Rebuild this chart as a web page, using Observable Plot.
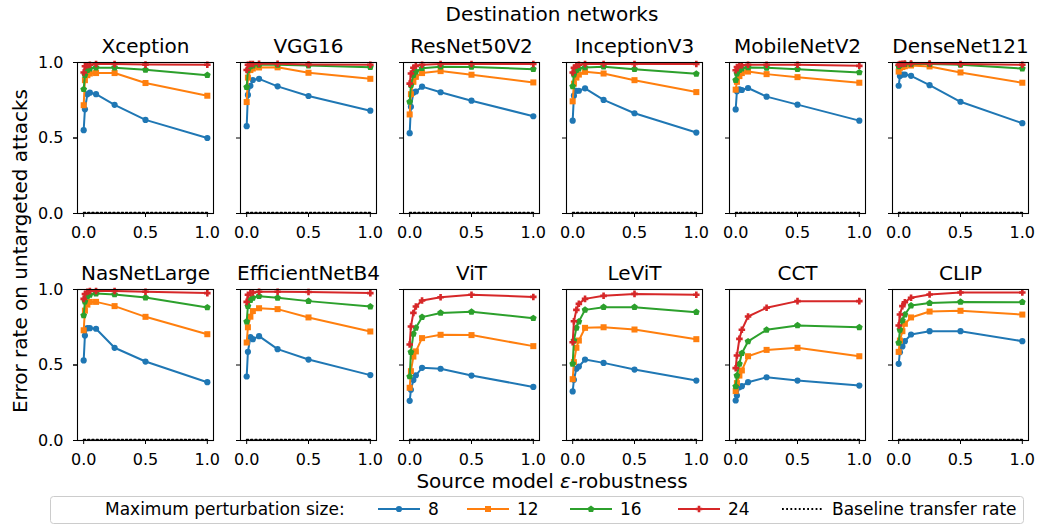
<!DOCTYPE html>
<html><head><meta charset="utf-8">
<script src="https://cdn.jsdelivr.net/npm/d3@7"></script>
<script src="https://cdn.jsdelivr.net/npm/@observablehq/plot@0.6"></script>
<style>
body{margin:0;background:#fff;font-family:"DejaVu Sans",sans-serif;}
#chart{width:1038px;}
#chart svg{display:block;overflow:visible;}
</style></head><body><div id="chart"></div>
<script>
const eps = [0, 0.01, 0.03, 0.05, 0.1, 0.25, 0.5, 1.0];
const networks = ["Xception","VGG16","ResNet50V2","InceptionV3","MobileNetV2","DenseNet121",
  "NasNetLarge","EfficientNetB4","ViT","LeViT","CCT","CLIP"];
const sizes = [8, 12, 16, 24];
const colors = ["#1f77b4", "#ff7f0e", "#2ca02c", "#d62728"];

const err8 = [
  [0.552, 0.690, 0.790, 0.800, 0.790, 0.720, 0.620, 0.500],
  [0.578, 0.785, 0.846, 0.884, 0.892, 0.842, 0.778, 0.681],
  [0.532, 0.707, 0.800, 0.808, 0.840, 0.803, 0.747, 0.644],
  [0.615, 0.780, 0.813, 0.813, 0.829, 0.752, 0.664, 0.536],
  [0.689, 0.810, 0.823, 0.818, 0.831, 0.774, 0.721, 0.615],
  [0.846, 0.910, 0.920, 0.920, 0.912, 0.850, 0.740, 0.598],
  [0.530, 0.695, 0.744, 0.744, 0.740, 0.614, 0.523, 0.386],
  [0.424, 0.587, 0.684, 0.671, 0.691, 0.605, 0.536, 0.433],
  [0.263, 0.336, 0.400, 0.432, 0.481, 0.475, 0.430, 0.355],
  [0.325, 0.402, 0.475, 0.490, 0.536, 0.514, 0.470, 0.397],
  [0.265, 0.298, 0.353, 0.360, 0.386, 0.419, 0.397, 0.364],
  [0.508, 0.585, 0.623, 0.658, 0.702, 0.724, 0.724, 0.658]
];
const err12 = [
  [0.717, 0.883, 0.916, 0.927, 0.930, 0.930, 0.864, 0.780],
  [0.738, 0.900, 0.950, 0.960, 0.967, 0.968, 0.932, 0.892],
  [0.656, 0.790, 0.872, 0.905, 0.930, 0.943, 0.919, 0.868],
  [0.743, 0.860, 0.900, 0.920, 0.938, 0.927, 0.883, 0.804],
  [0.820, 0.872, 0.910, 0.930, 0.940, 0.923, 0.903, 0.866],
  [0.940, 0.965, 0.970, 0.975, 0.980, 0.974, 0.934, 0.866],
  [0.730, 0.860, 0.900, 0.918, 0.918, 0.890, 0.819, 0.704],
  [0.649, 0.750, 0.820, 0.857, 0.876, 0.870, 0.815, 0.722],
  [0.349, 0.459, 0.556, 0.590, 0.678, 0.700, 0.698, 0.625],
  [0.406, 0.519, 0.614, 0.662, 0.746, 0.750, 0.735, 0.671],
  [0.327, 0.380, 0.430, 0.464, 0.558, 0.600, 0.614, 0.558],
  [0.587, 0.662, 0.724, 0.773, 0.815, 0.854, 0.859, 0.834]
];
const err16 = [
  [0.823, 0.916, 0.949, 0.960, 0.966, 0.966, 0.952, 0.916],
  [0.837, 0.950, 0.975, 0.980, 0.985, 0.985, 0.980, 0.969],
  [0.740, 0.850, 0.916, 0.940, 0.962, 0.972, 0.971, 0.956],
  [0.842, 0.920, 0.950, 0.960, 0.967, 0.972, 0.956, 0.925],
  [0.883, 0.927, 0.950, 0.960, 0.967, 0.965, 0.956, 0.934],
  [0.975, 0.985, 0.988, 0.990, 0.990, 0.990, 0.985, 0.960],
  [0.828, 0.920, 0.955, 0.965, 0.973, 0.967, 0.947, 0.881],
  [0.788, 0.890, 0.930, 0.945, 0.956, 0.945, 0.923, 0.887],
  [0.424, 0.585, 0.706, 0.746, 0.817, 0.845, 0.852, 0.810],
  [0.508, 0.662, 0.746, 0.788, 0.865, 0.883, 0.883, 0.850],
  [0.358, 0.430, 0.508, 0.578, 0.656, 0.733, 0.762, 0.750],
  [0.647, 0.733, 0.795, 0.834, 0.894, 0.910, 0.918, 0.916]
];
const err24 = [
  [0.934, 0.975, 0.982, 0.985, 0.990, 0.990, 0.986, 0.985],
  [0.950, 0.985, 0.990, 0.990, 0.992, 0.992, 0.987, 0.985],
  [0.860, 0.927, 0.965, 0.978, 0.985, 0.990, 0.990, 0.990],
  [0.934, 0.965, 0.980, 0.985, 0.990, 0.990, 0.990, 0.990],
  [0.949, 0.970, 0.980, 0.982, 0.985, 0.985, 0.985, 0.978],
  [0.985, 0.990, 0.992, 0.993, 0.993, 0.993, 0.990, 0.985],
  [0.938, 0.970, 0.985, 0.990, 0.990, 0.990, 0.985, 0.976],
  [0.918, 0.965, 0.975, 0.980, 0.985, 0.985, 0.983, 0.976],
  [0.636, 0.755, 0.845, 0.887, 0.927, 0.949, 0.965, 0.951],
  [0.651, 0.790, 0.865, 0.905, 0.938, 0.958, 0.971, 0.965],
  [0.479, 0.563, 0.673, 0.733, 0.821, 0.879, 0.923, 0.923],
  [0.762, 0.834, 0.890, 0.916, 0.945, 0.967, 0.980, 0.980]
];
const baseline = [0.005, 0.005, 0.005, 0.005, 0.005, 0.005, 0.005, 0.005, 0.005, 0.005, 0.005, 0.005];
const yTicks = [0, 0.5, 1.0];
const xTicks = [0, 0.5, 1.0];

const seriesValues = [err8, err12, err16, err24];
const rows = [];
networks.forEach((net, i) => sizes.forEach((s, k) => eps.forEach((e, j) =>
  rows.push({net, col: i % 6, row: Math.floor(i / 6), size: s, eps: e, err: seriesValues[k][i][j]}))));
const baseRows = [];
networks.forEach((net, i) => eps.forEach(e =>
  baseRows.push({net, col: i % 6, row: Math.floor(i / 6), eps: e, err: baseline[i]})));
const titles = networks.map((net, i) => ({net, col: i % 6, row: Math.floor(i / 6)}));

const pentagon = {draw(ctx, size) {
  const R = Math.sqrt(size / (2.5 * Math.sin(2 * Math.PI / 5)));
  for (let k = 0; k < 5; k++) {
    const a = -Math.PI / 2 + k * 2 * Math.PI / 5;
    const x = R * Math.cos(a), y = R * Math.sin(a);
    if (k) ctx.lineTo(x, y); else ctx.moveTo(x, y);
  }
  ctx.closePath();
}};
// filled plus ("P"-style) with thicker arms
const plusFilled = {draw(ctx, size) {
  const s = Math.sqrt(size / 3.4); // arm half-length ~ s, thickness ~ 0.8 s
  const L = s, w = s * 0.4;
  ctx.moveTo(-L, -w); ctx.lineTo(-w, -w); ctx.lineTo(-w, -L); ctx.lineTo(w, -L);
  ctx.lineTo(w, -w); ctx.lineTo(L, -w); ctx.lineTo(L, w); ctx.lineTo(w, w);
  ctx.lineTo(w, L); ctx.lineTo(-w, L); ctx.lineTo(-w, w); ctx.lineTo(-L, w);
  ctx.closePath();
}};
const symbols = [d3.symbolCircle, d3.symbolSquare, pentagon, plusFilled];
const radii = [3.1, 3.4, 3.1, 3.4];

const marks = [];
sizes.forEach((s, k) => {
  const d = rows.filter(r => r.size === s);
  marks.push(Plot.line(d, {x: "eps", y: "err", fx: "col", fy: "row", z: "net", stroke: colors[k], strokeWidth: 2}));
  marks.push(Plot.dot(d, {x: "eps", y: "err", fx: "col", fy: "row", symbol: symbols[k], r: radii[k], fill: colors[k], stroke: "none"}));
});
marks.push(Plot.line(baseRows, {x: "eps", y: "err", fx: "col", fy: "row", z: "net", stroke: "black", strokeWidth: 1.8, strokeDasharray: "1.8,2.4"}));
marks.push(Plot.frame({stroke: "black", strokeWidth: 1.1}));
marks.push(Plot.axisX({ticks: xTicks, tickFormat: d3.format(".1f"), tickSize: 4, tickPadding: 9, facetAnchor: null, label: null}));
marks.push(Plot.axisY({ticks: yTicks, tickFormat: d3.format(".1f"), tickSize: 4, tickPadding: 10, label: null}));
marks.push(Plot.axisY({ticks: yTicks, tickFormat: () => "", tickSize: 4, facetAnchor: null, label: null}));
marks.push(Plot.text(titles, {fx: "col", fy: "row", text: "net", frameAnchor: "top", lineAnchor: "bottom", dy: -10, fontSize: 20}));

const plot = Plot.plot({
  width: 1038, height: 494,
  marginTop: 62, marginLeft: 77, marginRight: 10, marginBottom: 54,
  style: {fontFamily: "DejaVu Sans", fontSize: "16px", color: "black", background: "white"},
  fx: {domain: [0, 1, 2, 3, 4, 5], paddingInner: 0.166, paddingOuter: 0, axis: null, label: null},
  fy: {domain: [0, 1], paddingInner: 0.335, paddingOuter: 0, axis: null, label: null},
  x: {domain: [-0.05, 1.05], label: null},
  y: {domain: [0, 1], label: null},
  marks
});
document.getElementById("chart").appendChild(plot);

const svg = d3.select(plot);
svg.append("text").attr("x", 552).attr("y", 21).attr("text-anchor", "middle")
  .attr("font-size", 20).attr("fill", "black").text("Destination networks");
svg.append("text").attr("transform", "translate(27,251) rotate(-90)").attr("text-anchor", "middle")
  .attr("font-size", 20).attr("fill", "black").text("Error rate on untargeted attacks");
const xl = svg.append("text").attr("x", 552).attr("y", 488).attr("text-anchor", "middle")
  .attr("font-size", 20).attr("fill", "black");
xl.append("tspan").text("Source model ");
xl.append("tspan").attr("font-style", "italic").text("ε");
xl.append("tspan").text("-robustness");

// legend
const legendLabels = ["8", "12", "16", "24"];
const leg = d3.select("#chart").append("svg").attr("width", 1038).attr("height", 31)
  .style("font-family", "DejaVu Sans").style("font-size", "17px");
leg.append("rect").attr("x", 50.5).attr("y", 2.5).attr("width", 973).attr("height", 27)
  .attr("rx", 3).attr("fill", "white").attr("stroke", "#cccccc");
leg.append("text").attr("x", 105).attr("y", 21).text("Maximum perturbation size:");
const textX = [428, 517, 620, 728];
legendLabels.forEach((lab, k) => {
  const x0 = textX[k] - 50, x1 = textX[k] - 8;
  leg.append("line").attr("x1", x0).attr("x2", x1).attr("y1", 15).attr("y2", 15)
    .attr("stroke", colors[k]).attr("stroke-width", 2);
  const sym = d3.symbol(symbols[k], Math.PI * radii[k] * radii[k]);
  leg.append("path").attr("d", sym()).attr("transform", `translate(${(x0 + x1) / 2},15)`).attr("fill", colors[k]);
  leg.append("text").attr("x", textX[k]).attr("y", 21).text(lab);
});
leg.append("line").attr("x1", 782).attr("x2", 822).attr("y1", 15).attr("y2", 15)
  .attr("stroke", "black").attr("stroke-width", 1.8).attr("stroke-dasharray", "1.8,2.4");
leg.append("text").attr("x", 832).attr("y", 21).text("Baseline transfer rate");
</script></body></html>
